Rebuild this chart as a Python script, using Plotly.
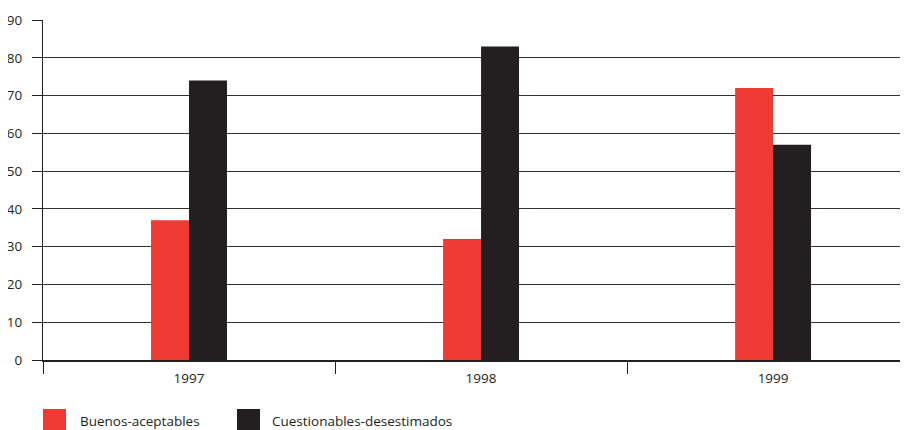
import plotly.graph_objects as go

years = ["1997", "1998", "1999"]
buenos = [37, 32, 72]
cuestionables = [74, 83, 57]
series_names = ["Buenos-aceptables", "Cuestionables-desestimados"]
colors = ["#EE3A33", "#231F20"]
y_ticks = [0, 10, 20, 30, 40, 50, 60, 70, 80, 90]

FONT = "Open Sans"
FS = 13.5
DARK = "#231F20"
# page body has an 8px margin; the figure is sized to fit the window
OFF = 8
W, H = 900, 422
L, T, B = 43 - OFF, 20 - OFF, H - (360 - OFF)
PW, PH = W - L, (360 - OFF) - T

fig = go.Figure()
for name, vals, col in zip(series_names, [buenos, cuestionables], colors):
    fig.add_trace(go.Bar(x=years, y=vals, name=name, marker_color=col,
                         marker_line_width=0, showlegend=False))

fig.update_layout(
    width=W, height=H,
    margin=dict(l=L, r=0, t=T, b=B, pad=0),
    paper_bgcolor="white", plot_bgcolor="white",
    barmode="group", bargap=0.74, bargroupgap=0,
    font=dict(family=FONT, size=FS, color=DARK),
    xaxis=dict(type="category", range=[-0.5, 2.462],
               showgrid=False, showline=True, linecolor=DARK, linewidth=2,
               ticks="outside", tickson="boundaries", ticklen=12,
               tickcolor=DARK, tickwidth=1.3, ticklabelstandoff=5,
               tickfont=dict(family=FONT, size=FS, color=DARK)),
    yaxis=dict(range=[0, 90], tickvals=y_ticks, showgrid=True,
               gridcolor="#333333", gridwidth=1.3,
               showline=True, linecolor=DARK, linewidth=1.3,
               ticks="outside", ticklen=10, tickcolor=DARK, tickwidth=1.2,
               ticklabelstandoff=7, zeroline=False,
               tickfont=dict(family=FONT, size=FS, color=DARK)),
)

# legend drawn manually with paper-referenced squares (window pixel positions)
leg_items = [(43, 78), (237, 270)]
def px_x(x):
    return (x - OFF - L) / PW
def px_y(y):
    return ((360 - OFF) - (y - OFF)) / PH

for (sx, tx), name, col in zip(leg_items, series_names, colors):
    fig.add_shape(type="rect", xref="paper", yref="paper",
                  x0=px_x(sx), x1=px_x(sx + 23),
                  y0=px_y(431), y1=px_y(409),
                  fillcolor=col, line_width=0)
    fig.add_annotation(xref="paper", yref="paper", x=px_x(tx),
                       y=px_y(421), text=name, showarrow=False,
                       xanchor="left", yanchor="middle",
                       font=dict(family=FONT, size=FS, color=DARK))

fig.write_html("out.html")
